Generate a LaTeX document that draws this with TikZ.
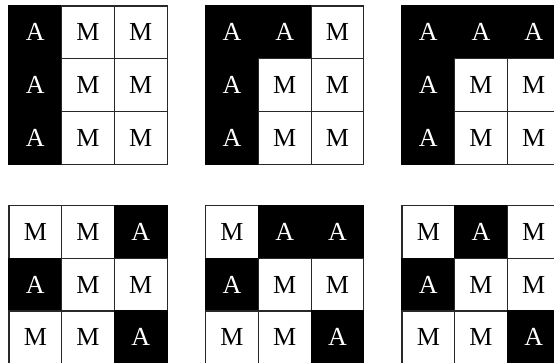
\documentclass[tikz,border=0pt]{standalone}
\usepackage{fontspec}
\setmainfont{Liberation Serif}
\usepackage{tikz}
\usetikzlibrary{positioning}
\usepackage{xcolor}
\definecolor{gridline}{RGB}{40,40,40}

\tikzset{
  cell/.style={minimum size=52.7pt, inner sep=0pt, draw=gridline, line width=1.2pt,
    font=\fontsize{26}{26}\selectfont},
  cellA/.style={cell, fill=black, draw=black, text=white},
  cellM/.style={cell, fill=white, text=black},
}

\begin{document}
\begin{tikzpicture}[x=1pt, y=-1pt]
  \useasboundingbox (0,0) rectangle (554,362);
  % six 3x3 grids, cells listed row by row
  \foreach \g/\gx/\gy/\cells in {
      1/9/6/{A,M,M,A,M,M,A,M,M},
      2/205.7/6/{A,A,M,A,M,M,A,M,M},
      3/402/6/{A,A,A,A,M,M,A,M,M},
      4/9/205.5/{M,M,A,A,M,M,M,M,A},
      5/205.7/205.5/{M,A,A,A,M,M,M,M,A},
      6/402/205.5/{M,A,M,A,M,M,M,M,A}} {
    \foreach \c [count=\i from 0] in \cells {
      \pgfmathsetmacro\col{int(mod(\i,3))}
      \pgfmathsetmacro\row{int(div(\i,3))}
      \node[cell\c] (g\g-\i) at (\gx+\col*52.7+26.35, \gy+\row*52.7+26.35) {\c};
    }
  }
\end{tikzpicture}
\end{document}
